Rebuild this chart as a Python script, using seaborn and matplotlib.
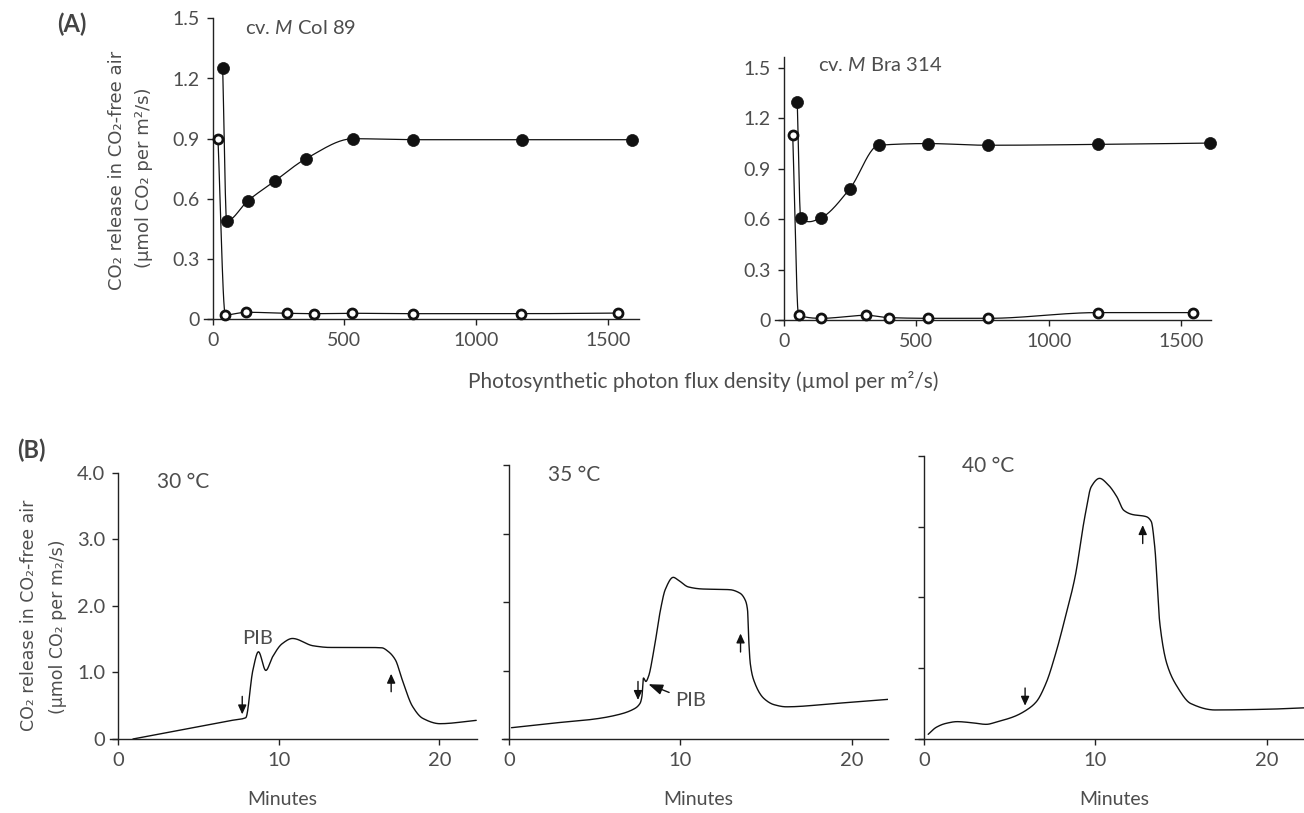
import numpy as np
import pandas as pd
import matplotlib
matplotlib.use("Agg")
import matplotlib.pyplot as plt
import seaborn as sns

# ---------------- data ----------------
# Panel A, cv. M Col 89
colA_light_x = [38, 53, 133, 237, 354, 534, 762, 1173, 1594]
colA_light_y = [1.25, 0.49, 0.59, 0.69, 0.80, 0.90, 0.895, 0.895, 0.895]
colA_dark_x = [20, 48, 128, 284, 386, 530, 760, 1170, 1538]
colA_dark_y = [0.90, 0.022, 0.035, 0.030, 0.028, 0.030, 0.028, 0.028, 0.031]
# Panel A, cv. M Bra 314
braA_light_x = [50, 63, 140, 248, 358, 544, 770, 1187, 1610]
braA_light_y = [1.30, 0.606, 0.608, 0.78, 1.04, 1.05, 1.04, 1.045, 1.053]
braA_dark_x = [33, 55, 141, 311, 397, 544, 772, 1185, 1547]
braA_dark_y = [1.10, 0.028, 0.010, 0.028, 0.014, 0.010, 0.010, 0.044, 0.044]
# traced curve through the M Bra 314 light points (slight dip between 63 and 140)
braA_curve_x = [50, 63, 95, 140, 248, 358, 544, 770, 1187, 1610]
braA_curve_y = [1.30, 0.606, 0.585, 0.608, 0.78, 1.04, 1.05, 1.04, 1.045, 1.053]

a_xticks = [0, 500, 1000, 1500]
a_yticks = [0, 0.3, 0.6, 0.9, 1.2, 1.5]
a_yticklabels = ["0", "0.3", "0.6", "0.9", "1.2", "1.5"]

# Panel B traces (minutes, CO2 release)
t30 = [0.91, 4.42, 7.0, 7.94, 8.38, 8.73, 9.19, 9.60, 10.2, 10.85, 12.14, 13.2, 15.5,
       16.41, 16.84, 17.26, 17.69, 18.33, 18.97, 20.04, 22.3]
v30 = [0.0, 0.16, 0.277, 0.32, 1.03, 1.31, 1.03, 1.23, 1.43, 1.51, 1.40, 1.375, 1.375,
       1.37, 1.31, 1.19, 0.89, 0.49, 0.31, 0.23, 0.28]
t35 = [0.13, 2.5, 4.95, 6.28, 7.22, 7.64, 7.75, 7.84, 7.98, 8.13, 8.45, 8.83, 9.11,
       9.58, 9.87, 10.46, 11.27, 12.87, 13.47, 13.78, 13.92, 13.98, 14.08, 14.28,
       14.88, 15.48, 16.18, 19.1, 22.2]
v35 = [0.165, 0.23, 0.29, 0.35, 0.43, 0.52, 0.62, 0.89, 0.84, 0.91, 1.30, 1.88, 2.18,
       2.36, 2.32, 2.22, 2.19, 2.18, 2.13, 2.03, 1.88, 1.49, 1.10, 0.86,
       0.59, 0.50, 0.47, 0.52, 0.58]
t40 = [0.23, 0.70, 1.26, 1.92, 2.77, 3.62, 4.28, 5.23, 5.98, 6.55, 7.11, 7.68, 8.25,
       8.81, 9.38, 9.75, 10.24, 10.74, 11.25, 11.65, 12.15, 12.96, 13.26, 13.46,
       13.76, 14.16, 14.77, 15.57, 16.98, 20.0, 22.2]
v40 = [0.066, 0.165, 0.22, 0.245, 0.23, 0.207, 0.245, 0.315, 0.41, 0.527, 0.786, 1.21,
       1.73, 2.29, 3.14, 3.56, 3.68, 3.59, 3.42, 3.23, 3.17, 3.14, 3.07, 2.72,
       1.63, 1.07, 0.74, 0.50, 0.41, 0.42, 0.44]

b_xticks = [0, 10, 20]
b_yticks = [0, 1, 2, 3, 4]
b_yticklabels = ["0", "1.0", "2.0", "3.0", "4.0"]
temps = ["30 \u00b0C", "35 \u00b0C", "40 \u00b0C"]

# light-off (down arrow) and light-on (up arrow) events: time, arrow tail, arrow tip
off_t = [7.72, 7.52, 5.89]
off_tail = [0.64, 0.84, 0.72]
off_tip = [0.37, 0.57, 0.47]
on_t = [17.0, 13.51, 12.76]
on_tail = [0.71, 1.27, 2.76]
on_tip = [0.98, 1.54, 3.02]

# ---------------- styling ----------------
sns.set_style("ticks")
plt.rcParams["font.family"] = ["Lato", "DejaVu Sans"]
plt.rcParams["mathtext.fontset"] = "custom"
plt.rcParams["mathtext.it"] = "Lato:italic"
plt.rcParams["mathtext.rm"] = "Lato"
TXT = "#4d4d4d"
LINE = "#111111"
W, H = 1304, 813

fig = plt.figure(figsize=(W / 100, H / 100), dpi=100)


def add_ax(l, r, t, b):
    return fig.add_axes([l / W, 1 - b / H, (r - l) / W, (b - t) / H])


def smooth(x, y, per=24):
    x = np.asarray(x, float)
    y = np.asarray(y, float)
    h = np.diff(x)
    d = np.diff(y) / h
    m = np.zeros_like(y)
    for k in range(1, len(x) - 1):
        if d[k - 1] * d[k] > 0:
            w1 = 2 * h[k] + h[k - 1]
            w2 = h[k] + 2 * h[k - 1]
            m[k] = (w1 + w2) / (w1 / d[k - 1] + w2 / d[k])
    m[0], m[-1] = d[0], d[-1]
    xs, ys = [], []
    for i in range(len(h)):
        t = np.linspace(0, 1, per, endpoint=(i == len(h) - 1))
        h00 = 2 * t**3 - 3 * t**2 + 1
        h10 = t**3 - 2 * t**2 + t
        h01 = -2 * t**3 + 3 * t**2
        h11 = t**3 - t**2
        xs.append(x[i] + t * h[i])
        ys.append(h00 * y[i] + h10 * h[i] * m[i] + h01 * y[i + 1] + h11 * h[i] * m[i + 1])
    return np.concatenate(xs), np.concatenate(ys)


def style_ax(ax, labelleft=True, fs=14):
    for s in ["top", "right"]:
        ax.spines[s].set_visible(False)
    ax.spines["left"].set_position(("data", 0))
    for s in ["left", "bottom"]:
        ax.spines[s].set_color("#222222")
        ax.spines[s].set_linewidth(1.0)
    ax.tick_params(direction="out", length=4.5, width=1.0, color="#222222",
                   labelcolor=TXT, labelsize=fs, pad=5, labelleft=labelleft)
    ax.set_xlabel("")
    ax.set_ylabel("")
    ax.patch.set_alpha(0)


def draw_A(ax, lx, ly, cx, cy, dx, dy, title):
    for xx, yy in [(dx, dy), (cx, cy)]:
        sx, sy = smooth(xx, yy)
        sns.lineplot(x=sx, y=sy, ax=ax, color=LINE, lw=0.9, sort=False,
                     estimator=None, legend=False)
    sns.scatterplot(x=lx, y=ly, ax=ax, s=75, color="#111111", edgecolor="#111111",
                    linewidth=0.5, zorder=5, legend=False, clip_on=False)
    sns.scatterplot(x=dx, y=dy, ax=ax, s=42, color="white", edgecolor="#111111",
                    linewidth=2.0, zorder=6, legend=False, clip_on=False)
    ax.set_xticks(a_xticks)
    ax.set_xticklabels([str(v) for v in a_xticks])
    ax.set_yticks(a_yticks)
    ax.set_yticklabels(a_yticklabels)
    style_ax(ax)
    ax.text(title[1], title[2], title[0], fontsize=14.5, color=TXT,
            ha="left", va="center")


# ---- Panel A ----
axA1 = add_ax(204, 639.3, 18.3, 319.3)
axA1.set_xlim(-33, 1620)
axA1.set_ylim(0, 1.5)
draw_A(axA1, colA_light_x, colA_light_y, colA_light_x, colA_light_y,
       colA_dark_x, colA_dark_y, ("cv. $\\mathit{M}$ Col 89", 123, 1.45))

axA2 = add_ax(775, 1210.7, 56.7, 320)
axA2.set_xlim(-34, 1612)
axA2.set_ylim(0, 1.567)
draw_A(axA2, braA_light_x, braA_light_y, braA_curve_x, braA_curve_y,
       braA_dark_x, braA_dark_y, ("cv. $\\mathit{M}$ Bra 314", 128, 1.515))

fig.text(703 / W, 1 - 381 / H,
         "Photosynthetic photon flux density (\u00b5mol per m\u00b2/s)",
         ha="center", va="center", fontsize=15, color=TXT)
fig.text(116.5 / W, 1 - 170 / H, "CO\u2082 release in CO\u2082-free air", rotation=90,
         ha="center", va="center", fontsize=13, color=TXT, family="DejaVu Sans")
fig.text(144 / W, 1 - 178 / H, "(\u00b5mol CO\u2082 per m\u00b2/s)", rotation=90,
         ha="center", va="center", fontsize=13, color=TXT, family="DejaVu Sans")
fig.text(72 / W, 1 - 24 / H, "(A)", ha="center", va="center", fontsize=17,
         fontweight="bold", color="#444444")

# ---- Panel B ----
b_axes = [
    (add_ax(110, 476.7, 472.7, 739), (-0.52, 22.33), t30, v30, 2.38),
    (add_ax(501.7, 888.3, 465, 739), (-0.44, 22.14), t35, v35, 2.25),
    (add_ax(915, 1304, 455.7, 739), (-0.54, 22.18), t40, v40, 2.21),
]
for i, (ax, xl, tt, vv, tx) in enumerate(b_axes):
    sx, sy = smooth(tt, vv, per=30)
    sns.lineplot(x=sx, y=sy, ax=ax, color=LINE, lw=1.0, sort=False,
                 estimator=None, legend=False)
    ax.set_xlim(*xl)
    ax.set_ylim(0, 4)
    ax.set_xticks(b_xticks)
    ax.set_xticklabels([str(v) for v in b_xticks])
    ax.set_yticks(b_yticks)
    ax.set_yticklabels(b_yticklabels)
    style_ax(ax, labelleft=(i == 0), fs=14.5)
    ax.text(tx, 3.86, temps[i], fontsize=15, color=TXT, ha="left", va="center")
    arrow = dict(arrowstyle="-|>,head_length=0.55,head_width=0.25", color="#111111",
                 lw=1.0, shrinkA=0, shrinkB=0)
    ax.annotate("", xy=(off_t[i], off_tip[i]), xytext=(off_t[i], off_tail[i]),
                arrowprops=arrow)
    ax.annotate("", xy=(on_t[i], on_tip[i]), xytext=(on_t[i], on_tail[i]),
                arrowprops=arrow)

b_axes[0][0].text(8.69, 1.51, "PIB", fontsize=14.5, color=TXT, ha="center", va="center")
b_axes[1][0].annotate("PIB", xy=(8.13, 0.80), xytext=(9.68, 0.555), fontsize=14.5,
                      color=TXT, ha="left", va="center",
                      arrowprops=dict(arrowstyle="-|>,head_length=0.6,head_width=0.22",
                                      color="#111111", lw=1.0, shrinkA=2, shrinkB=0))

for xc in [282, 698, 1114]:
    fig.text(xc / W, 1 - 799 / H, "Minutes", ha="center", va="center",
             fontsize=14, color=TXT)

fig.text(29 / W, 1 - 615 / H, "CO\u2082 release in CO\u2082-free air", rotation=90,
         ha="center", va="center", fontsize=12.5, color=TXT, family="DejaVu Sans")
fig.text(58 / W, 1 - 627 / H, "(\u00b5mol CO\u2082 per m\u2082/s)", rotation=90,
         ha="center", va="center", fontsize=12.5, color=TXT, family="DejaVu Sans")
fig.text(31 / W, 1 - 450 / H, "(B)", ha="center", va="center", fontsize=17,
         fontweight="bold", color="#444444")

fig.savefig("out.png", dpi=100)
